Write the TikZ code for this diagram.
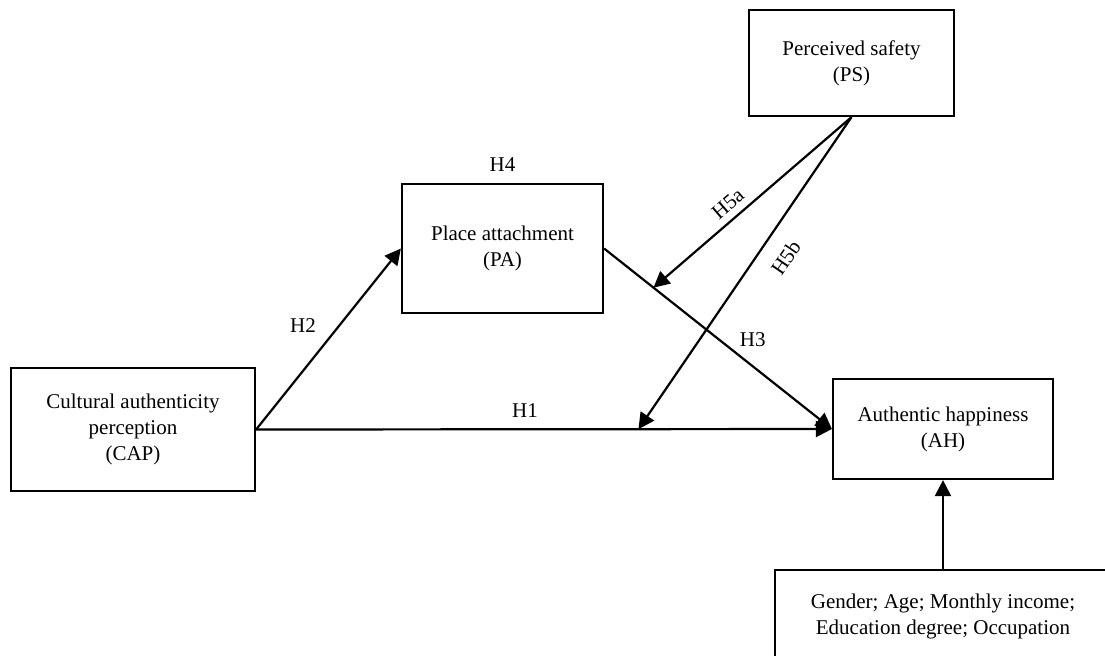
\documentclass[tikz,border=0pt]{standalone}
\usepackage{fontspec}
\setmainfont{Liberation Serif}
\usetikzlibrary{arrows.meta,calc}
\begin{document}
\begin{tikzpicture}[x=0.5pt,y=-0.5pt,
  font=\fontsize{10.5}{13}\selectfont,
  box/.style={draw, line width=1.1pt, align=center, inner sep=0pt},
  arr/.style={draw, line width=1.1pt, -{Triangle[length=8pt,width=8pt]}}]
\useasboundingbox (0,0) rectangle (1105,655);
\node[box, minimum width=122pt, minimum height=61.5pt] (cap) at (133,429.5) {Cultural authenticity\\perception\\(CAP)};
\node[box, minimum width=100.5pt, minimum height=64.5pt] (pa) at (502.5,248.5) {Place attachment\\(PA)};
\node[box, minimum width=102.5pt, minimum height=53pt] (ps) at (851.5,63) {Perceived safety\\(PS)};
\node[box, minimum width=110pt, minimum height=50pt] (ah) at (943,429) {Authentic happiness\\(AH)};
\node[box, minimum width=168pt, minimum height=46pt] (ctrl) at (943,616) {Gender; Age; Monthly income;\\Education degree; Occupation};
\node[above=2pt] (h4) at (pa.north) {H4};
\coordinate (m5a) at ($(pa.east)!0.217!(ah.west)$);
\coordinate (m5b) at ($(cap.east)!0.664!(ah.west)$);
\path[arr] (cap.east) -- node[above=2pt, pos=0.467] (h1) {H1} (ah.west);
\path[arr] (cap.east) -- node[above left=1pt, pos=0.48] (h2) {H2} (pa.west);
\path[arr] (pa.east) -- node[above=1pt, xshift=6pt, pos=0.6] (h3) {H3} (ah.west);
\path[arr] (ps.south) -- node[sloped, above, pos=0.576] (h5a) {H5a} (m5a);
\path[arr] (ps.south) -- node[sloped, below=5pt, pos=0.406] (h5b) {H5b} (m5b);
\path[arr] (ctrl.north) -- (ah.south);
\end{tikzpicture}
\end{document}
